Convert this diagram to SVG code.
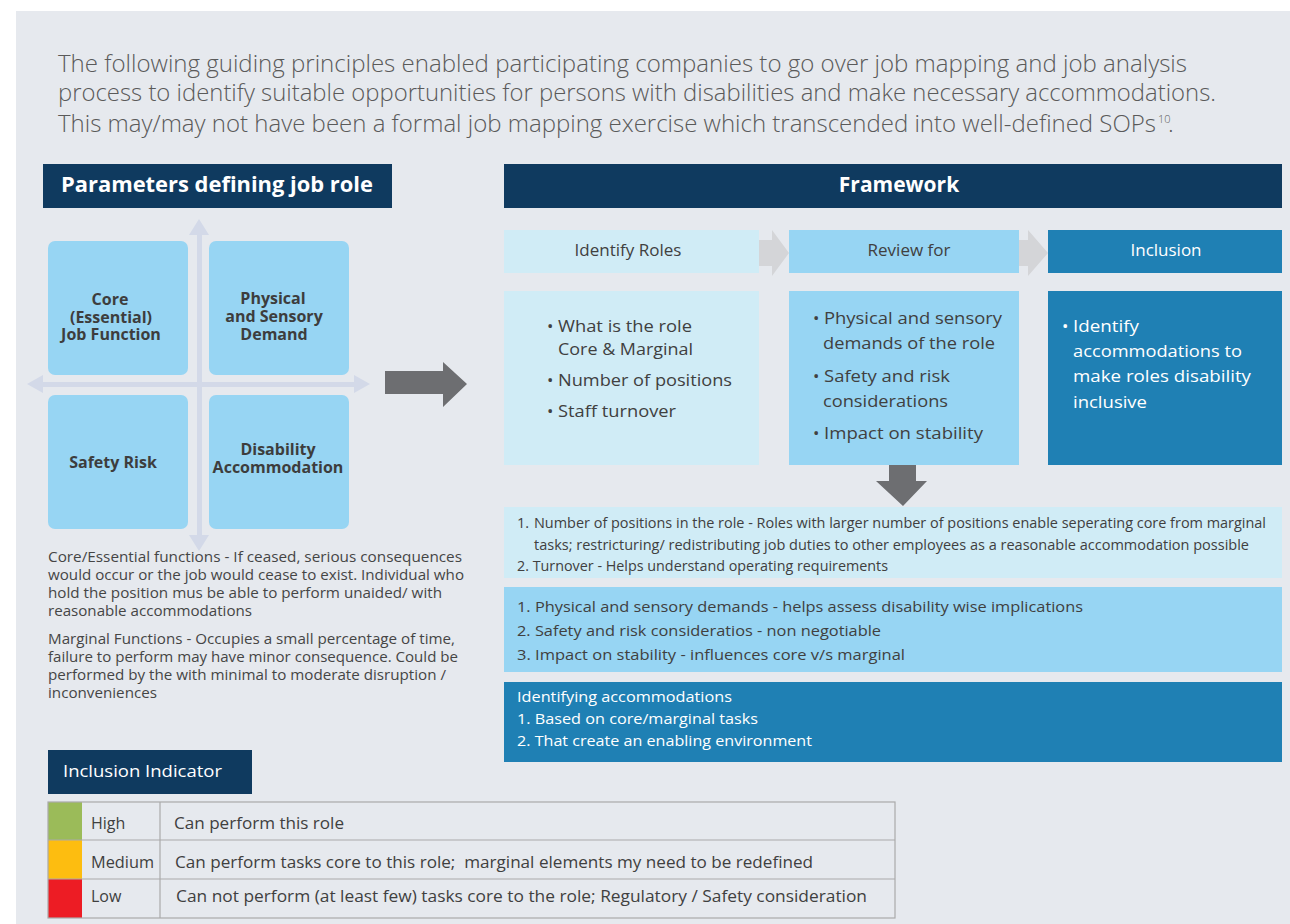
<svg xmlns="http://www.w3.org/2000/svg" width="1290" height="924" viewBox="0 0 1290 924">
<style>
text{font-family:"Open Sans","Noto Sans","Liberation Sans",sans-serif;}
.intro{font-size:24px;font-weight:300;fill:#5a5a5a;}
.hdr{font-size:21px;font-weight:700;fill:#ffffff;text-anchor:middle;}
.q{font-size:16px;font-weight:700;fill:#3d3d3d;text-anchor:middle;}
.note{font-size:14px;fill:#454545;}
.fh{font-size:17px;fill:#404040;text-anchor:middle;}
.fb{font-size:17px;fill:#404040;}
.bt{font-size:14.5px;fill:#404040;}
.tb{font-size:16px;fill:#404040;}
.navy{fill:#0f3a5f;}
.lb{fill:#d0ecf6;}
.mb{fill:#97d5f3;}
.db{fill:#1f80b4;}
.cell{fill:none;stroke:#aaaaaa;stroke-width:1.2;}
text.w{fill:#ffffff;}
</style>
<rect x="0" y="0" width="1290" height="924" fill="#ffffff"/>
<rect x="16" y="11" width="1274" height="913" fill="#e6e9ee"/>

<g id="intro">
<text class="intro" x="58" y="72" textLength="1129" lengthAdjust="spacingAndGlyphs">The following guiding principles enabled participating companies to go over job mapping and job analysis</text>
<text class="intro" x="58" y="101" textLength="1158" lengthAdjust="spacingAndGlyphs">process to identify suitable opportunities for persons with disabilities and make necessary accommodations.</text>
<text class="intro" x="58" y="132" textLength="1098" lengthAdjust="spacingAndGlyphs">This may/may not have been a formal job mapping exercise which transcended into well-defined SOPs</text>
<text class="intro" x="1158" y="123" style="font-size:11px">10</text>
<text class="intro" x="1168" y="132">.</text>
</g>

<g id="header-parameters">
<rect class="navy" x="43" y="164" width="349" height="44"/>
<text class="hdr" x="217" y="192" textLength="312" lengthAdjust="spacingAndGlyphs">Parameters defining job role</text>
</g>
<g id="header-framework">
<rect class="navy" x="504" y="164" width="778" height="44"/>
<text class="hdr" x="899" y="192">Framework</text>
</g>

<g id="axes" fill="#d3d9e8">
<rect x="197" y="234" width="5" height="302"/>
<polygon points="199,219 189,235 209,235"/>
<polygon points="199,551 189,535 209,535"/>
<rect x="42" y="382" width="312" height="5"/>
<polygon points="27,384 43,375 43,393"/>
<polygon points="370,384 354,375 354,393"/>
</g>

<g id="q-core">
<rect class="mb" x="48" y="241" width="140" height="134" rx="7"/>
<text class="q" x="110" y="305">Core</text>
<text class="q" x="111" y="323">(Essential)</text>
<text class="q" x="111" y="340">Job Function</text>
</g>
<g id="q-physical">
<rect class="mb" x="209" y="241" width="140" height="134" rx="7"/>
<text class="q" x="273" y="304">Physical</text>
<text class="q" x="274" y="322">and Sensory</text>
<text class="q" x="274" y="340">Demand</text>
</g>
<g id="q-safety">
<rect class="mb" x="48" y="395" width="140" height="134" rx="7"/>
<text class="q" x="113" y="468">Safety Risk</text>
</g>
<g id="q-disability">
<rect class="mb" x="209" y="395" width="140" height="134" rx="7"/>
<text class="q" x="278" y="455">Disability</text>
<text class="q" x="278" y="473">Accommodation</text>
</g>

<g id="notes">
<text class="note" x="48" y="562" textLength="414" lengthAdjust="spacingAndGlyphs">Core/Essential functions - If ceased, serious consequences</text>
<text class="note" x="48" y="580" textLength="416" lengthAdjust="spacingAndGlyphs">would occur or the job would cease to exist. Individual who</text>
<text class="note" x="48" y="598" textLength="394" lengthAdjust="spacingAndGlyphs">hold the position mus be able to perform unaided/ with</text>
<text class="note" x="48" y="616" textLength="204" lengthAdjust="spacingAndGlyphs">reasonable accommodations</text>
<text class="note" x="48" y="644" textLength="407" lengthAdjust="spacingAndGlyphs">Marginal Functions - Occupies a small percentage of time,</text>
<text class="note" x="48" y="662" textLength="410" lengthAdjust="spacingAndGlyphs">failure to perform may have minor consequence. Could be</text>
<text class="note" x="48" y="680" textLength="398" lengthAdjust="spacingAndGlyphs">performed by the with minimal to moderate disruption /</text>
<text class="note" x="48" y="698" textLength="109" lengthAdjust="spacingAndGlyphs">inconveniences</text>
</g>

<g id="connectors">
<polygon fill="#6d6e71" points="385,371 443,371 443,362 467,384 443,407 443,394 385,394"/>
<polygon fill="#d4d5d8" points="759,240 772,240 772,230 789,253 772,276 772,266 759,266"/>
<polygon fill="#d4d5d8" points="1019,240 1028,240 1028,230 1048,253 1028,276 1028,266 1019,266"/>
<polygon fill="#6d6e71" points="889,464 916,464 916,481 927,481 903,506 876,481 889,481"/>
</g>

<g id="fw-identify">
<rect class="lb" x="504" y="230" width="255" height="43"/>
<text class="fh" x="628" y="256">Identify Roles</text>
<rect class="lb" x="504" y="291" width="255" height="174"/>
<text class="fb" x="547" y="332">•</text>
<text class="fb" x="558" y="332" textLength="134" lengthAdjust="spacingAndGlyphs">What is the role</text>
<text class="fb" x="558" y="355" textLength="135" lengthAdjust="spacingAndGlyphs">Core &amp; Marginal</text>
<text class="fb" x="547" y="386">•</text>
<text class="fb" x="558" y="386" textLength="174" lengthAdjust="spacingAndGlyphs">Number of positions</text>
<text class="fb" x="547" y="417">•</text>
<text class="fb" x="558" y="417" textLength="118" lengthAdjust="spacingAndGlyphs">Staff turnover</text>
</g>
<g id="fw-review">
<rect class="mb" x="789" y="230" width="230" height="43"/>
<text class="fh" x="909" y="256">Review for</text>
<rect class="mb" x="789" y="291" width="230" height="174"/>
<text class="fb" x="813" y="324">•</text>
<text class="fb" x="824" y="324" textLength="178" lengthAdjust="spacingAndGlyphs">Physical and sensory</text>
<text class="fb" x="823" y="349" textLength="172" lengthAdjust="spacingAndGlyphs">demands of the role</text>
<text class="fb" x="813" y="382">•</text>
<text class="fb" x="824" y="382" textLength="126" lengthAdjust="spacingAndGlyphs">Safety and risk</text>
<text class="fb" x="823" y="407" textLength="125" lengthAdjust="spacingAndGlyphs">considerations</text>
<text class="fb" x="813" y="439">•</text>
<text class="fb" x="824" y="439" textLength="159" lengthAdjust="spacingAndGlyphs">Impact on stability</text>
</g>
<g id="fw-inclusion">
<rect class="db" x="1048" y="230" width="234" height="43"/>
<text class="fh w" x="1166" y="256">Inclusion</text>
<rect class="db" x="1048" y="291" width="234" height="174"/>
<text class="fb w" x="1062" y="332">•</text>
<text class="fb w" x="1073" y="332" textLength="66" lengthAdjust="spacingAndGlyphs">Identify</text>
<text class="fb w" x="1073" y="357" textLength="169" lengthAdjust="spacingAndGlyphs">accommodations to</text>
<text class="fb w" x="1073" y="382" textLength="178" lengthAdjust="spacingAndGlyphs">make roles disability</text>
<text class="fb w" x="1073" y="408" textLength="74" lengthAdjust="spacingAndGlyphs">inclusive</text>
</g>

<g id="detail-1">
<rect class="lb" x="504" y="507" width="778" height="71"/>
<text class="bt" x="517" y="528">1.</text>
<text class="bt" x="534" y="528" textLength="732" lengthAdjust="spacingAndGlyphs">Number of positions in the role - Roles with larger number of positions enable seperating core from marginal</text>
<text class="bt" x="534" y="550" textLength="715" lengthAdjust="spacingAndGlyphs">tasks; restricturing/ redistributing job duties to other employees as a reasonable accommodation possible</text>
<text class="bt" x="517" y="571" textLength="371" lengthAdjust="spacingAndGlyphs">2. Turnover - Helps understand operating requirements</text>
</g>
<g id="detail-2">
<rect class="mb" x="504" y="587" width="778" height="85"/>
<text class="bt" x="517" y="612" textLength="566" lengthAdjust="spacingAndGlyphs">1. Physical and sensory demands - helps assess disability wise implications</text>
<text class="bt" x="517" y="636" textLength="364" lengthAdjust="spacingAndGlyphs">2. Safety and risk consideratios - non negotiable</text>
<text class="bt" x="517" y="660" textLength="388" lengthAdjust="spacingAndGlyphs">3. Impact on stability - influences core v/s marginal</text>
</g>
<g id="detail-3">
<rect class="db" x="504" y="682" width="778" height="80"/>
<text class="bt w" x="517" y="702" textLength="215" lengthAdjust="spacingAndGlyphs">Identifying accommodations</text>
<text class="bt w" x="517" y="724" textLength="241" lengthAdjust="spacingAndGlyphs">1. Based on core/marginal tasks</text>
<text class="bt w" x="517" y="746" textLength="295" lengthAdjust="spacingAndGlyphs">2. That create an enabling environment</text>
</g>

<g id="indicator-header">
<rect class="navy" x="48" y="750" width="204" height="44"/>
<text class="w" x="63" y="777" style="font-size:17px" textLength="159" lengthAdjust="spacingAndGlyphs">Inclusion Indicator</text>
</g>

<g id="indicator-table">
<rect x="48" y="802" width="847" height="116" fill="#e6e9ee"/>
<rect x="48" y="802" width="34" height="38" fill="#9bbb59"/>
<rect x="48" y="840" width="34" height="39" fill="#fdbd10"/>
<rect x="48" y="879" width="34" height="39" fill="#ed1c24"/>
<rect class="cell" x="48" y="802" width="847" height="116"/>
<line class="cell" x1="48" y1="840" x2="895" y2="840"/>
<line class="cell" x1="48" y1="879" x2="895" y2="879"/>
<line class="cell" x1="160" y1="802" x2="160" y2="918"/>
<text class="tb" x="91" y="829">High</text>
<text class="tb" x="91" y="868" textLength="63" lengthAdjust="spacingAndGlyphs">Medium</text>
<text class="tb" x="91" y="902">Low</text>
<text class="tb" x="174" y="829" textLength="170" lengthAdjust="spacingAndGlyphs">Can perform this role</text>
<text class="tb" x="175" y="868" textLength="638" lengthAdjust="spacingAndGlyphs">Can perform tasks core to this role;&#160; marginal elements my need to be redefined</text>
<text class="tb" x="176" y="902" textLength="691" lengthAdjust="spacingAndGlyphs">Can not perform (at least few) tasks core to the role; Regulatory / Safety consideration</text>
</g>
</svg>
